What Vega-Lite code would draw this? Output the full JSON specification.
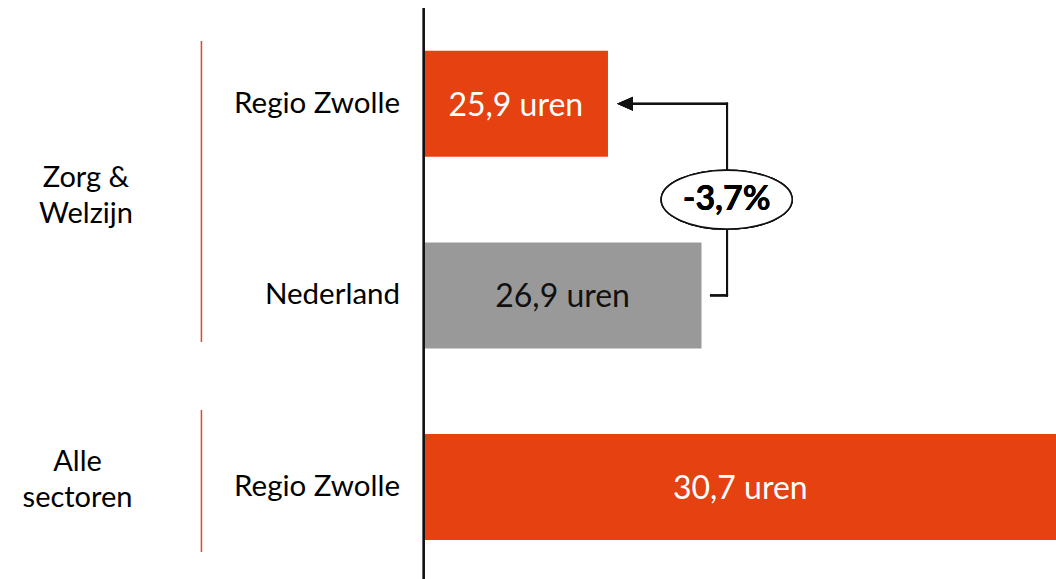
{
  "$schema": "https://vega.github.io/schema/vega-lite/v6.json",
  "width": 1056,
  "height": 571,
  "autosize": {"type": "none"},
  "padding": {"left": 0, "right": 0, "top": 8, "bottom": 0},
  "background": "white",
  "config": {"view": {"stroke": null}, "font": "Lato", "text": {"font": "Lato"}},
  "data": {
    "values": [
      {"group": "Zorg & Welzijn", "region": "Regio Zwolle", "row": 1, "uren": 25.9},
      {"group": "Zorg & Welzijn", "region": "Nederland", "row": 2, "uren": 26.9},
      {"group": "Alle sectoren", "region": "Regio Zwolle", "row": 3, "uren": 30.7}
    ]
  },
  "transform": [
    {"calculate": "(datum.uren + 23.93) / 2", "as": "mid"},
    {"calculate": "replace(format(datum.uren, '.1f'), '.', ',') + ' uren'", "as": "label"},
    {"calculate": "replace(datum.group, regexp(' (?=[^ ]+$)'), '\\n')", "as": "glabel"}
  ],
  "layer": [
    {
      "mark": {"type": "bar", "orient": "horizontal", "size": 106},
      "encoding": {
        "x": {"field": "uren", "type": "quantitative", "scale": {"domain": [19.4, 30.69], "nice": false, "zero": false, "padding": 0}, "axis": null},
        "x2": {"datum": 23.93},
        "y": {"field": "row", "type": "quantitative", "scale": {"domain": [0.5, 3.48], "reverse": true, "nice": false, "zero": false, "padding": 0}, "axis": null},
        "color": {"field": "region", "type": "nominal", "scale": {"domain": ["Regio Zwolle", "Nederland"], "range": ["#E54111", "#999999"]}, "legend": null}
      }
    },
    {
      "mark": {"type": "rule", "color": "#111111", "strokeWidth": 2},
      "encoding": {
        "x": {"datum": 23.93, "type": "quantitative", "scale": {"domain": [19.4, 30.69], "nice": false, "zero": false, "padding": 0}}
      }
    },
    {
      "mark": {"type": "text", "align": "right", "baseline": "middle", "fontSize": 29.5, "color": "#000000"},
      "encoding": {
        "x": {"datum": 23.677, "type": "quantitative", "scale": {"domain": [19.4, 30.69], "nice": false, "zero": false, "padding": 0}},
        "y": {"field": "row", "type": "quantitative", "scale": {"domain": [0.5, 3.48], "reverse": true, "nice": false, "zero": false, "padding": 0}},
        "text": {"field": "region"}
      }
    },
    {
      "mark": {"type": "text", "align": "center", "baseline": "middle", "fontSize": 32, "dy": 2},
      "encoding": {
        "x": {"field": "mid", "type": "quantitative", "scale": {"domain": [19.4, 30.69], "nice": false, "zero": false, "padding": 0}},
        "y": {"field": "row", "type": "quantitative", "scale": {"domain": [0.5, 3.48], "reverse": true, "nice": false, "zero": false, "padding": 0}},
        "text": {"field": "label"},
        "color": {"condition": {"test": "datum.region === 'Nederland'", "value": "#111111"}, "value": "#FFFFFF"}
      }
    },
    {
      "mark": {"type": "rule", "color": "#D9502A", "strokeWidth": 1.2},
      "encoding": {
        "x": {"datum": 21.554, "type": "quantitative", "scale": {"domain": [19.4, 30.69], "nice": false, "zero": false, "padding": 0}},
        "y": {"datum": 0.672, "type": "quantitative", "scale": {"domain": [0.5, 3.48], "reverse": true, "nice": false, "zero": false, "padding": 0}},
        "y2": {"datum": 2.243}
      }
    },
    {
      "mark": {"type": "rule", "color": "#D9502A", "strokeWidth": 1.2},
      "encoding": {
        "x": {"datum": 21.554, "type": "quantitative", "scale": {"domain": [19.4, 30.69], "nice": false, "zero": false, "padding": 0}},
        "y": {"datum": 2.598, "type": "quantitative", "scale": {"domain": [0.5, 3.48], "reverse": true, "nice": false, "zero": false, "padding": 0}},
        "y2": {"datum": 3.339}
      }
    },
    {
      "transform": [{"filter": "datum.group === 'Zorg & Welzijn'"}, {"aggregate": [], "groupby": ["glabel"]}],
      "mark": {"type": "text", "align": "center", "baseline": "middle", "fontSize": 29, "lineHeight": 36, "lineBreak": "\n", "color": "#000000"},
      "encoding": {
        "x": {"datum": 20.319, "type": "quantitative", "scale": {"domain": [19.4, 30.69], "nice": false, "zero": false, "padding": 0}},
        "y": {"datum": 1.387, "type": "quantitative", "scale": {"domain": [0.5, 3.48], "reverse": true, "nice": false, "zero": false, "padding": 0}},
        "text": {"field": "glabel"}
      }
    },
    {
      "transform": [{"filter": "datum.group === 'Alle sectoren'"}, {"aggregate": [], "groupby": ["glabel"]}],
      "mark": {"type": "text", "align": "center", "baseline": "middle", "fontSize": 29, "lineHeight": 36, "lineBreak": "\n", "color": "#000000"},
      "encoding": {
        "x": {"datum": 20.229, "type": "quantitative", "scale": {"domain": [19.4, 30.69], "nice": false, "zero": false, "padding": 0}},
        "y": {"datum": 2.869, "type": "quantitative", "scale": {"domain": [0.5, 3.48], "reverse": true, "nice": false, "zero": false, "padding": 0}},
        "text": {"field": "glabel"}
      }
    },
    {
      "mark": {"type": "rule", "color": "#111111", "strokeWidth": 2, "strokeCap": "square"},
      "encoding": {
        "x": {"datum": 27.001, "type": "quantitative", "scale": {"domain": [19.4, 30.69], "nice": false, "zero": false, "padding": 0}},
        "x2": {"datum": 27.173},
        "y": {"datum": 2.0, "type": "quantitative", "scale": {"domain": [0.5, 3.48], "reverse": true, "nice": false, "zero": false, "padding": 0}}
      }
    },
    {
      "mark": {"type": "rule", "color": "#111111", "strokeWidth": 2, "strokeCap": "square"},
      "encoding": {
        "x": {"datum": 27.173, "type": "quantitative", "scale": {"domain": [19.4, 30.69], "nice": false, "zero": false, "padding": 0}},
        "y": {"datum": 1.0, "type": "quantitative", "scale": {"domain": [0.5, 3.48], "reverse": true, "nice": false, "zero": false, "padding": 0}},
        "y2": {"datum": 2.0}
      }
    },
    {
      "mark": {"type": "rule", "color": "#111111", "strokeWidth": 2, "strokeCap": "square"},
      "encoding": {
        "x": {"datum": 26.114, "type": "quantitative", "scale": {"domain": [19.4, 30.69], "nice": false, "zero": false, "padding": 0}},
        "x2": {"datum": 27.173},
        "y": {"datum": 1.0, "type": "quantitative", "scale": {"domain": [0.5, 3.48], "reverse": true, "nice": false, "zero": false, "padding": 0}}
      }
    },
    {
      "mark": {"type": "point", "shape": "M-1,0L1,-0.875L1,0.875Z", "size": 256, "filled": true, "color": "#111111", "opacity": 1},
      "encoding": {
        "x": {"datum": 26.082, "type": "quantitative", "scale": {"domain": [19.4, 30.69], "nice": false, "zero": false, "padding": 0}},
        "y": {"datum": 1.0, "type": "quantitative", "scale": {"domain": [0.5, 3.48], "reverse": true, "nice": false, "zero": false, "padding": 0}}
      }
    },
    {
      "mark": {"type": "point", "shape": "M-1,0A1,0.45,0,1,0,1,0A1,0.45,0,1,0,-1,0Z", "size": 17161, "filled": true, "fill": "#FFFFFF", "stroke": "#111111", "strokeWidth": 1.5, "opacity": 1, "fillOpacity": 1, "strokeOpacity": 1},
      "encoding": {
        "x": {"datum": 27.169, "type": "quantitative", "scale": {"domain": [19.4, 30.69], "nice": false, "zero": false, "padding": 0}},
        "y": {"datum": 1.5, "type": "quantitative", "scale": {"domain": [0.5, 3.48], "reverse": true, "nice": false, "zero": false, "padding": 0}}
      }
    },
    {
      "mark": {"type": "text", "align": "center", "baseline": "middle", "fontSize": 34, "fontWeight": "bold", "color": "#000000"},
      "encoding": {
        "x": {"datum": 27.169, "type": "quantitative", "scale": {"domain": [19.4, 30.69], "nice": false, "zero": false, "padding": 0}},
        "y": {"datum": 1.5, "type": "quantitative", "scale": {"domain": [0.5, 3.48], "reverse": true, "nice": false, "zero": false, "padding": 0}},
        "text": {"value": "-3,7%"}
      }
    }
  ]
}
